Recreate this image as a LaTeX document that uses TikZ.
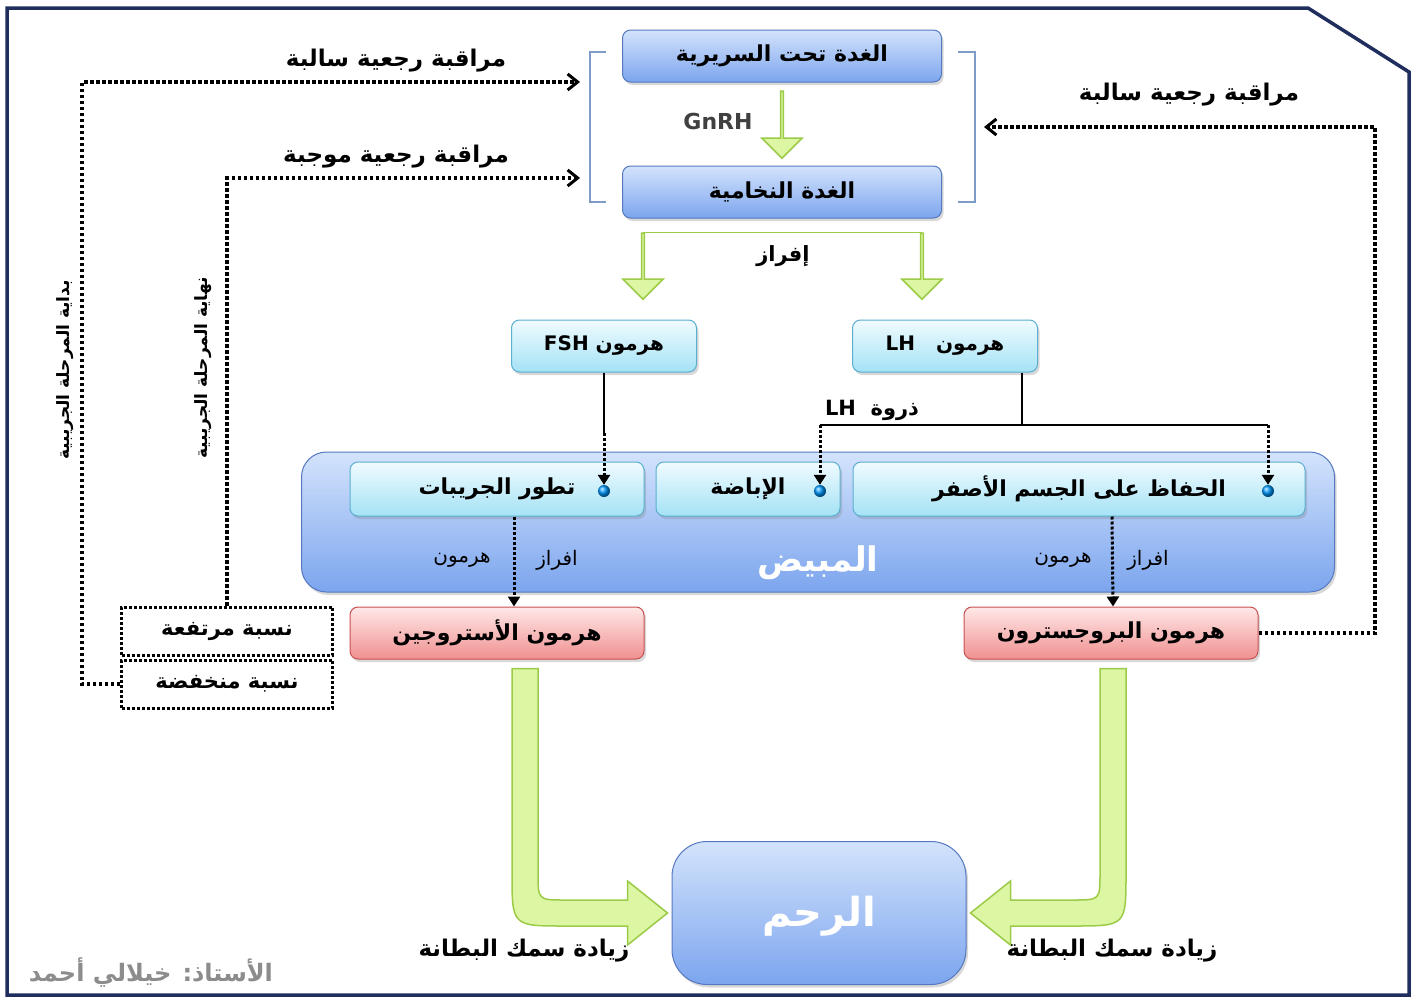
\documentclass[tikz,border=0pt]{standalone}
\usepackage{fontspec}
\newfontfamily\arabicfont[Script=Arabic]{DejaVu Sans}
\TeXXeTstate=1
\usetikzlibrary{arrows.meta,shadows,shapes.arrows,calc}

\definecolor{marco}{HTML}{1F2E5C}
\definecolor{azulborde}{HTML}{5578C0}
\definecolor{azularriba}{HTML}{D3E3FC}
\definecolor{azulabajo}{HTML}{7CA5EE}
\definecolor{cianborde}{HTML}{5BAFD0}
\definecolor{cianarriba}{HTML}{F0FBFF}
\definecolor{cianabajo}{HTML}{A4E2F5}
\definecolor{rojoborde}{HTML}{C85050}
\definecolor{rojoarriba}{HTML}{FFE8E8}
\definecolor{rojoabajo}{HTML}{F09090}
\definecolor{verdefondo}{HTML}{DDF6A4}
\definecolor{verdeborde}{HTML}{9CCB48}
\definecolor{corchete}{HTML}{7F9CC8}

\tikzset{
  caja/.style={rounded corners=8, line width=1, minimum height=52, inner sep=0,
    font=\arabicfont\bfseries\fontsize{22}{26}\selectfont,
    drop shadow={shadow xshift=2pt, shadow yshift=-3pt, opacity=0.3}},
  azul/.style={caja, draw=azulborde, top color=azularriba, bottom color=azulabajo},
  cian/.style={caja, draw=cianborde, top color=cianarriba, bottom color=cianabajo},
  rojo/.style={caja, draw=rojoborde, top color=rojoarriba, bottom color=rojoabajo},
  punteada/.style={draw, line width=3pt, dash pattern=on 3pt off 2pt, minimum width=211, minimum height=48,
    inner sep=0, font=\arabicfont\bfseries\fontsize{21}{24}\selectfont},
  etiqueta/.style={inner sep=0, font=\arabicfont\bfseries\fontsize{23}{26}\selectfont},
  chica/.style={inner sep=0, font=\arabicfont\fontsize{20}{23}\selectfont},
  retro/.style={line width=3.5pt, dash pattern=on 3.5pt off 2.5pt, -{Straight Barb[length=10pt,width=16pt,line width=3pt]}},
  punta/.style={line width=3pt, dash pattern=on 3pt off 2pt, -{Triangle[length=10pt,width=12pt]}},
  flecha/.style={single arrow, draw=verdeborde, fill=verdefondo, line width=1.5,
    minimum width=40, single arrow head extend=10, inner sep=0, rotate=-90},
  grande/.style={draw=verdeborde, fill=verdefondo, line width=1.5},
  bola/.style={circle, inner sep=0, minimum size=12, ball color=cyan!60!blue}
}

\begin{document}
\begin{tikzpicture}[x=1pt, y=-1pt]
\useasboundingbox (0,0) rectangle (1419,1001);
\fill[white] (0,0) rectangle (1419,1001);
\draw[marco, line width=3.5, line join=miter] (7,8) -- (1308,8) -- (1409,72) -- (1409,995) -- (7,995) -- cycle;

% Glandulas
\node[azul, minimum width=319] (hipo) at (782,56) {\beginR الغدة تحت السريرية\endR};
\node[azul, minimum width=319] (hipof) at (782,192) {\beginR الغدة النخامية\endR};

\draw[corchete, line width=1.2] (606,52) -- (590,52) -- (590,202) -- (606,202);
\draw[corchete, line width=1.2] (958,52) -- (975,52) -- (975,202) -- (958,202);

\node[flecha, minimum height=67] (fgnrh) at ($(hipo.south)!0.5!(hipof.north)$) {};
\node[inner sep=0, font=\arabicfont\bfseries\fontsize{22}{26}\selectfont, text=black!75] (gnrh) at (718,121) {GnRH};

\node[flecha, minimum height=66] (fizq) at ([xshift=21,yshift=-47]hipof.south west) {};
\node[flecha, minimum height=66] (fder) at ([xshift=-20,yshift=-47]hipof.south east) {};
\draw[verdeborde, line width=1.5] (fizq.tail) -- (fder.tail);
\node[etiqueta, font=\arabicfont\bfseries\fontsize{21}{24}\selectfont] (secr) at (783,256) {\beginR إفراز\endR};

% Hormonas
\node[cian, minimum width=185, font=\arabicfont\bfseries\fontsize{20}{24}\selectfont] (fsh) at (604,346) {\beginR هرمون \beginL FSH\endL\endR};
\node[cian, minimum width=185, font=\arabicfont\bfseries\fontsize{20}{24}\selectfont] (lh) at (945,346) {\beginR هرمون\ \ \ \beginL LH\endL\endR};

% Ovario
\node[azul, rounded corners=25, minimum width=1033, minimum height=140] (ovario) at (818,522) {};
\node[inner sep=0, text=white, font=\arabicfont\bfseries\fontsize{34}{38}\selectfont] (ovariotxt) at (818,563) {\beginR المبيض\endR};

\node[cian, minimum width=294, minimum height=54] (foli) at (497,489) {\beginR تطور الجريبات\endR};
\node[cian, minimum width=184, minimum height=54] (ovul) at (748,489) {\beginR الإباضة\endR};
\node[cian, minimum width=452, minimum height=54] (cuerpo) at (1079,489) {\beginR الحفاظ على الجسم الأصفر\endR};
\node[bola] (b1) at (604,491) {};
\node[bola] (b2) at (820,491) {};
\node[bola] (b3) at (1268,491) {};

% LH y FSH hacia el ovario
\coordinate (lhj) at (1022,425);
\coordinate (fk) at (fsh.south |- lhj);
\coordinate (pk1) at (b2 |- lhj);
\coordinate (pk2) at (b3 |- lhj);
\draw[line width=1.3] (fsh.south) -- ([yshift=-8]fk);
\draw[punta] ([yshift=-8]fk) -- (b1.north);
\draw[line width=1.3] (lhj |- lh.south) -- (lhj);
\draw[line width=1.3] (pk1) -- (pk2);
\draw[punta] (pk1) -- (b2.north);
\draw[punta] (pk2) -- (b3.north);
\node[inner sep=0, font=\arabicfont\bfseries\fontsize{21}{24}\selectfont] (pico) at (872,410) {\beginR ذروة\ \ \beginL LH\endL\endR};

% Estrogeno y progesterona
\node[rojo, minimum width=294] (estro) at (497,633) {\beginR هرمون الأستروجين\endR};
\node[rojo, minimum width=294] (proge) at (1111,633) {\beginR هرمون البروجسترون\endR};

\draw[punta] ([xshift=17]foli.south) -- ([xshift=17]estro.north);
\draw[punta] ([xshift=33]cuerpo.south) -- ([xshift=2]proge.north);
\node[chica] (s1a) at (557,560) {\beginR افراز\endR};
\node[chica] (s1b) at (462,560) {\beginR هرمون\endR};
\node[chica] (s2a) at (1148,560) {\beginR افراز\endR};
\node[chica] (s2b) at (1063,560) {\beginR هرمون\endR};

% Retroalimentacion
\node[punteada] (alta) at (227,631) {\beginR نسبة مرتفعة\endR};
\node[punteada] (baja) at (227,684) {\beginR نسبة منخفضة\endR};

\coordinate (in1) at (580,82);
\coordinate (in2) at (580,178);
\coordinate (in3) at (984,127);
\coordinate (c1) at (82,82);
\coordinate (c3) at (1375,127);
\draw[retro] (baja.west) -| (c1) -- (in1);
\draw[retro] (alta.north) |- (in2);
\draw[retro] (proge.east) -| (c3) -- (in3);

\node[etiqueta] (r1) at (396,61) {\beginR مراقبة رجعية سالبة\endR};
\node[etiqueta] (r2) at (396,157) {\beginR مراقبة رجعية موجبة\endR};
\node[etiqueta] (r3) at (1189,95) {\beginR مراقبة رجعية سالبة\endR};
\node[inner sep=0, font=\arabicfont\bfseries\fontsize{17}{20}\selectfont, rotate=90] (inicio) at (65,370) {\beginR بداية المرحلة الجريبية\endR};
\node[inner sep=0, font=\arabicfont\bfseries\fontsize{17}{20}\selectfont, rotate=90] (fin) at (203,368) {\beginR نهاية المرحلة الجريبية\endR};

% Utero
\node[azul, rounded corners=35, minimum width=294, minimum height=143] (utero) at (819,913) {};
\node[inner sep=0, text=white, font=\arabicfont\bfseries\fontsize{40}{44}\selectfont] (uterotxt) at (819,916) {\beginR الرحم\endR};

\coordinate (aL) at ([xshift=28]estro.south);
\coordinate (cL) at (aL |- utero.west);
\filldraw[grande]
  ([xshift=-13,yshift=-9]aL) -- ([xshift=-13,yshift=40]cL)
  .. controls ([xshift=-13,yshift=-13]cL) .. ([xshift=40,yshift=-13]cL)
  -- ([xshift=-44,yshift=-13]utero.west) -- ([xshift=-44,yshift=-32]utero.west)
  -- ([xshift=-4]utero.west) -- ([xshift=-44,yshift=32]utero.west)
  -- ([xshift=-44,yshift=13]utero.west) -- ([xshift=40,yshift=13]cL)
  .. controls ([xshift=13,yshift=13]cL) .. ([xshift=13,yshift=40]cL)
  -- ([xshift=13,yshift=-9]aL) -- cycle;

\coordinate (aR) at ([xshift=2]proge.south);
\coordinate (cR) at (aR |- utero.east);
\filldraw[grande]
  ([xshift=13,yshift=-9]aR) -- ([xshift=13,yshift=40]cR)
  .. controls ([xshift=13,yshift=-13]cR) .. ([xshift=-40,yshift=-13]cR)
  -- ([xshift=44,yshift=-13]utero.east) -- ([xshift=44,yshift=-32]utero.east)
  -- ([xshift=4]utero.east) -- ([xshift=44,yshift=32]utero.east)
  -- ([xshift=44,yshift=13]utero.east) -- ([xshift=-40,yshift=13]cR)
  .. controls ([xshift=-13,yshift=13]cR) .. ([xshift=-13,yshift=40]cR)
  -- ([xshift=-13,yshift=-9]aR) -- cycle;

\node[etiqueta] (g1) at (524,951) {\beginR زيادة سمك البطانة\endR};
\node[etiqueta] (g2) at (1112,951) {\beginR زيادة سمك البطانة\endR};

\node[inner sep=0, text=black!45, font=\arabicfont\bfseries\fontsize{24}{28}\selectfont] (firma) at (151,973) {\beginR الأستاذ: خيلالي أحمد\endR};
\end{tikzpicture}
\end{document}
